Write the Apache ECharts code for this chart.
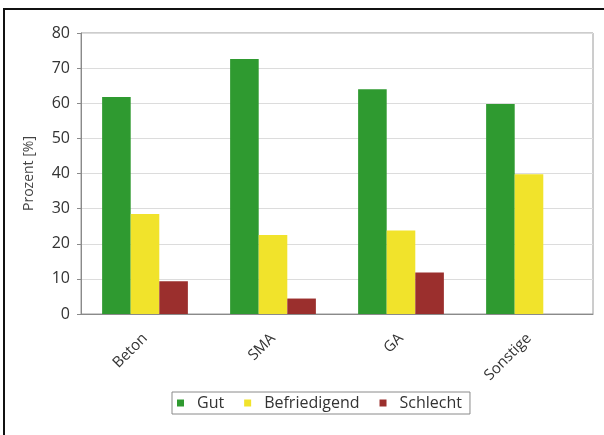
<!DOCTYPE html>
<html>
<head>
<meta charset="utf-8">
<script src="https://cdn.jsdelivr.net/npm/echarts@6/dist/echarts.min.js"></script>
<style>
  html, body { margin: 0; padding: 0; background: #fff; }
  #chart { width: 604px; height: 435px; }
</style>
</head>
<body>
<div id="chart"></div>
<script>
  // Kategorien und Werte (Prozent)
  var categories = ['Beton', 'SMA', 'GA', 'Sonstige'];
  var seriesNames = ['Gut', 'Befriedigend', 'Schlecht'];
  var gut = [61.8, 72.6, 64, 59.8];
  var befriedigend = [28.5, 22.5, 23.8, 39.8];
  var schlecht = [9.3, 4.4, 11.8, 0];
  var colors = ['#2f9a30', '#f1e32b', '#9b2f2d'];

  var font = '"Open Sans", "Noto Sans", sans-serif';
  var myChart = echarts.init(document.getElementById('chart'));

  var option = {
    animation: false,
    color: colors,
    textStyle: { fontFamily: font },
    // äußerer Rahmen
    graphic: [{
      type: 'rect',
      shape: { x: 4, y: 9, width: 700, height: 500 },
      style: { fill: 'none', stroke: '#111', lineWidth: 2 }
    }],
    grid: {
      left: 81, right: 11, top: 33, bottom: 121,
      show: true,
      borderColor: '#9a9a9a',
      borderWidth: 1
    },
    legend: {
      left: 172, top: 392,
      padding: [3, 8, 3, 5],
      borderColor: '#8a8a8a',
      borderWidth: 1,
      itemWidth: 7, itemHeight: 7,
      itemGap: 20,
      icon: 'rect',
      textStyle: { fontSize: 16, color: '#333', fontFamily: font, padding: [0, 0, 0, 8] },
      data: seriesNames
    },
    xAxis: {
      type: 'category',
      data: categories,
      axisLine: { lineStyle: { color: '#8a8a8a' } },
      axisTick: { show: false },
      axisLabel: { rotate: 45, fontSize: 15, color: '#333', margin: 22 }
    },
    yAxis: {
      type: 'value',
      min: 0, max: 80, interval: 10,
      name: 'Prozent [%]',
      nameLocation: 'middle',
      nameGap: 45,
      nameTextStyle: { fontSize: 14, color: '#444' },
      axisLine: { show: true, lineStyle: { color: '#8a8a8a' } },
      axisTick: { show: true, length: 4, lineStyle: { color: '#8a8a8a' } },
      axisLabel: { fontSize: 16, color: '#333', margin: 11 },
      splitLine: { lineStyle: { color: '#dcdcdc' } }
    },
    series: [
      { name: seriesNames[0], type: 'bar', data: gut, barGap: '0%', barCategoryGap: '33%' },
      { name: seriesNames[1], type: 'bar', data: befriedigend, barGap: '0%', barCategoryGap: '33%' },
      { name: seriesNames[2], type: 'bar', data: schlecht, barGap: '0%', barCategoryGap: '33%' }
    ]
  };

  option && myChart.setOption(option);
</script>
</body>
</html>
